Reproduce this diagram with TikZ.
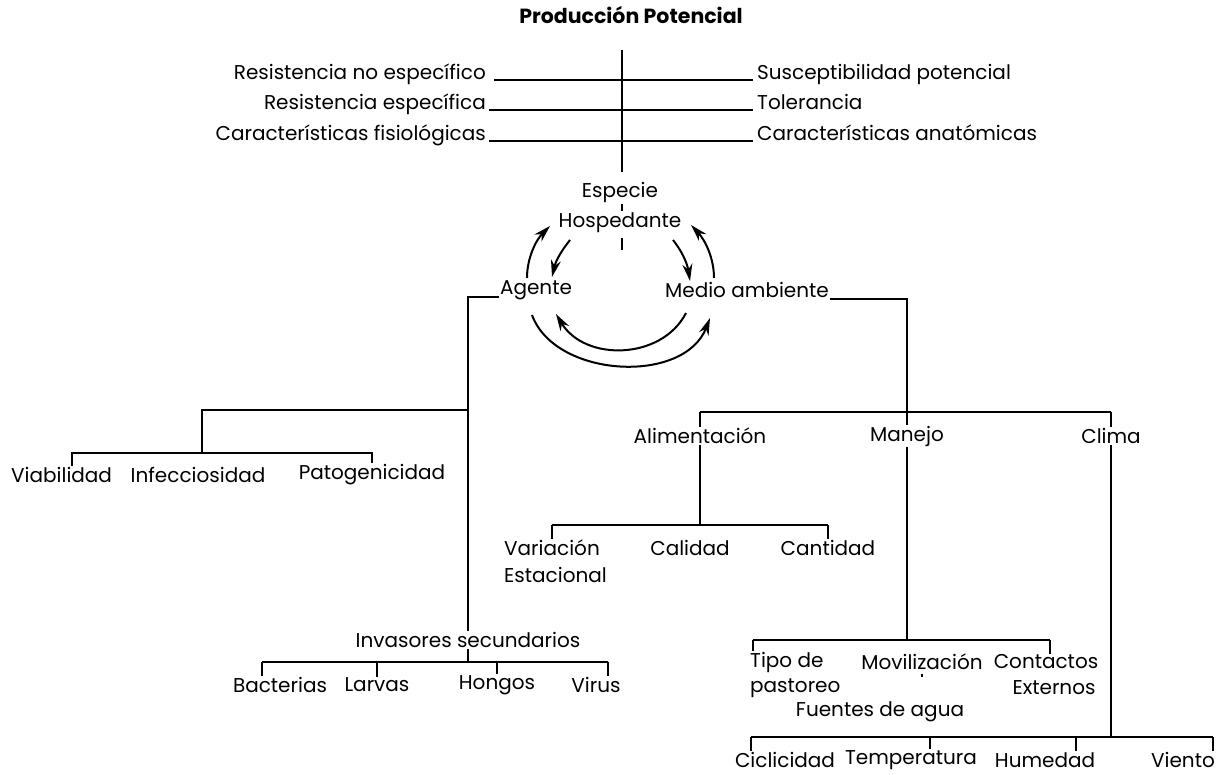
\documentclass[tikz,border=0pt]{standalone}
\usepackage{fontspec}
\setmainfont{Poppins}
\usetikzlibrary{arrows.meta}
\begin{document}
\begin{tikzpicture}[x=1pt,y=-1pt,
  txt/.style={font=\fontsize{20}{24}\selectfont, inner sep=1pt},
  ttl/.style={font=\bfseries\fontsize{20.5}{24}\selectfont, inner sep=1pt},
  thin/.style={line width=1.1pt},
  heavy/.style={line width=2.2pt},
  spine/.style={line width=2.8pt},
  cyc/.style={line width=2pt, -{Stealth[length=17pt,width=10pt]}}]
\useasboundingbox (0,0) rectangle (1232,775);

% --- title and host-species axis ---
\node[ttl] (title) at (631,15) {Producción Potencial};
\node[txt, anchor=base east] (rne) at (487,80) {Resistencia no específico};
\node[txt, anchor=base east] (res) at (487,110) {Resistencia específica};
\node[txt, anchor=base east] (cfi) at (487,141) {Características fisiológicas};
\node[txt, anchor=base west] (sus) at (756,80) {Susceptibilidad potencial};
\node[txt, anchor=base west] (tol) at (756,110) {Tolerancia};
\node[txt, anchor=base west] (can) at (756,141) {Características anatómicas};
\draw[thin] ([xshift=7pt]rne.base east) -- ([xshift=-3pt]sus.base west);
\draw[heavy] ([xshift=2pt]res.base east) -- ([xshift=-3pt]tol.base west);
\draw[line width=1.5pt] ([xshift=2pt]cfi.base east) -- ([xshift=-3pt]can.base west);
\coordinate (axtop) at (622,50);
\coordinate (axbot) at (622,172);
\draw[spine] (axtop) -- (axbot);

\node[txt] (esp) at (620,192) {Especie};
\node[txt] (hosp) at (620,223) {Hospedante};
\draw[line width=1.4pt] ([yshift=-1pt]esp.south -| axbot) -- ([yshift=1pt]hosp.north -| axbot);
\draw[line width=1.4pt] ([yshift=-4pt]hosp.south -| axbot) -- ++(0,12);

% --- host / agent / environment cycle ---
\node[txt] (ag) at (536,290) {Agente};
\node[txt] (ma) at (747,290) {Medio ambiente};
\coordinate (c1s) at (527,278); \coordinate (c1e) at (550,226);
\coordinate (c2s) at (570,240); \coordinate (c2e) at (552,277);
\coordinate (c3s) at (673,240); \coordinate (c3e) at (690,281);
\coordinate (c4s) at (714,278); \coordinate (c4e) at (691,225);
\coordinate (c5s) at (532,315); \coordinate (c5e) at (710,318);
\coordinate (c6s) at (686,313); \coordinate (c6e) at (556,314);
\draw[cyc] (c1s) .. controls (527,258) and (536,240) .. (c1e);
\draw[cyc] (c2s) .. controls (562,250) and (556,260) .. (c2e);
\draw[cyc] (c3s) .. controls (681,250) and (687,262) .. (c3e);
\draw[cyc] (c4s) .. controls (714,258) and (705,240) .. (c4e);
\draw[cyc] (c5s) .. controls (555,378) and (684,385) .. (c5e);
\draw[cyc] (c6s) .. controls (662,360) and (585,362) .. (c6e);

% --- agent branch ---
\node[txt] (inv) at (468,640) {Invasores secundarios};
\draw[thin] ([yshift=-7pt]ag.west) -| (inv.north);
\node[txt, anchor=west] (via) at (10,475) {Viabilidad};
\node[txt] (inf) at (198,475) {Infecciosidad};
\node[txt] (pat) at (372,475) {Patogenicidad};
\coordinate (lj) at (468,410);
\coordinate (lb) at (202,453);
\coordinate (lbl) at (72,453);
\draw[line width=1.8pt] (lj) -| (lb);
\draw[line width=1.6pt] (lbl |- via.north) -- (lbl) -- (pat.north |- lb) -- (pat.north);

\node[txt] (bac) at (280,685) {Bacterias};
\node[txt] (lar) at (377,685) {Larvas};
\node[txt] (hon) at (497,685) {Hongos};
\node[txt] (vir) at (596,685) {Virus};
\coordinate (ibl) at (262,662);
\coordinate (ibr) at (608,662);
\draw[thin] (inv.south) -- (inv.south |- ibl);
\draw[line width=1.6pt] (ibl) -- (ibr);
\draw[thin] (ibl) -- (ibl |- bac.north);
\draw[thin] (lar.north |- ibl) -- (lar.north);
\draw[thin] (hon.north |- ibl) -- (hon.north);
\draw[thin] (ibr) -- (ibr |- vir.north);

% --- environment branch ---
\node[txt] (alim) at (700,436) {Alimentación};
\node[txt] (man) at (907,436) {Manejo};
\node[txt] (clim) at (1111,436) {Clima};
\draw[thin] ([yshift=-9pt]ma.east) -| (man.north);
\coordinate (rb) at (0,412);
\draw[heavy] (alim.north |- rb) -- (clim.north |- rb);
\draw[thin] (alim.north |- rb) -- (alim.north);
\draw[thin] (clim.north |- rb) -- (clim.north);

\node[txt, anchor=west] (var) at (503,548) {Variación};
\node[txt, anchor=west] (est) at (503,575) {Estacional};
\node[txt] (cal) at (690,548) {Calidad};
\node[txt] (cant) at (828,548) {Cantidad};
\coordinate (cb) at (0,525);
\draw[thin] (alim.south) -- (alim.south |- cb);
\draw[heavy] (var.north |- cb) -- (cant.north |- cb);
\draw[thin] (var.north |- cb) -- (var.north);
\draw[thin] (cant.north |- cb) -- (cant.north);

\node[txt, anchor=west] (tipo) at (749,662) {Tipo de};
\node[txt, anchor=west] (past) at (749,688) {pastoreo};
\node[txt] (mov) at (922,662) {Movilización};
\node[txt] (cont) at (1046,662) {Contactos};
\node[txt] (ext) at (1054,688) {Externos};
\node[txt] (fue) at (880,712) {Fuentes de agua};
\coordinate (mbl) at (753,640);
\coordinate (mbr) at (1050,640);
\draw[thin] (man.south) -- (man.south |- mbl);
\draw[heavy] (mbl) -- (mbr);
\draw[thin] (mbl) -- (mbl |- tipo.north);
\draw[thin] (mbr) -- (mbr |- cont.north);
\draw[line width=1.6pt] ([yshift=-3pt]mov.south) -- ++(0,3);

\node[txt] (cic) at (785,760) {Ciclicidad};
\node[txt] (temp) at (911,760) {Temperatura};
\node[txt] (hum) at (1045,760) {Humedad};
\node[txt] (vie) at (1183,760) {Viento};
\coordinate (bbl) at (751,737);
\coordinate (bbr) at (1213,737);
\coordinate (bbt) at (930,737);
\coordinate (bbh) at (1076,737);
\draw[thin] (clim.south) -- (clim.south |- bbl);
\draw[heavy] (bbl) -- (bbr);
\draw[thin] (bbl) -- (bbl |- cic.north);
\draw[thin] (bbt) -- (bbt |- temp.north);
\draw[thin] (bbh) -- (bbh |- hum.north);
\draw[thin] (bbr) -- (bbr |- vie.north);
\end{tikzpicture}
\end{document}
